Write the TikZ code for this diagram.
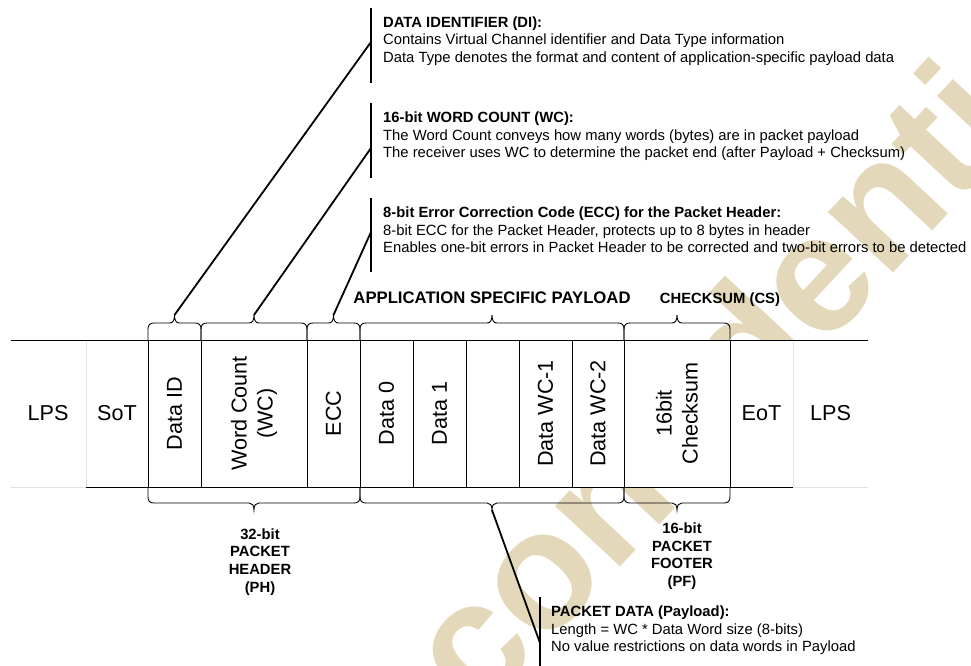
\documentclass[tikz,border=0pt]{standalone}
\usepackage{fontspec}
\setmainfont{Liberation Sans}
\definecolor{wm}{RGB}{228,216,186}
\definecolor{faintc}{RGB}{225,225,225}
\newcommand\bracetop[3]{%
  \draw[brc] (#1,340) -- (#1,329) .. controls (#1,325) and ({#1+2},323) .. ({#1+6},323)
    -- ({#2-5},323) .. controls ({#2-2},323) and (#2,321) .. (#2,315)
    .. controls (#2,321) and ({#2+2},323) .. ({#2+5},323)
    -- ({#3-6},323) .. controls ({#3-2},323) and (#3,325) .. (#3,329) -- (#3,340);}
\newcommand\bracebot[3]{%
  \draw[brc] (#1,487) -- (#1,497) .. controls (#1,501) and ({#1+2},503) .. ({#1+6},503)
    -- ({#2-5},503) .. controls ({#2-2},503) and (#2,505) .. (#2,510)
    .. controls (#2,505) and ({#2+2},503) .. ({#2+5},503)
    -- ({#3-6},503) .. controls ({#3-2},503) and (#3,501) .. (#3,497) -- (#3,487);}
\begin{document}
\begin{tikzpicture}[x=1pt,y=-1pt,
  txt/.style={inner sep=0pt, anchor=base west, font=\fontsize{14.8}{17.7}\selectfont},
  ttl/.style={inner sep=0pt, anchor=base west, font=\fontsize{14.8}{17.7}\selectfont\bfseries},
  lbl/.style={inner sep=0pt, anchor=base, font=\fontsize{14.8}{17.7}\selectfont\bfseries},
  cell/.style={inner sep=0pt, align=center, font=\fontsize{21.6}{26}\selectfont},
  ln/.style={line width=1pt, black},
  faint/.style={line width=1pt, faintc},
  brc/.style={line width=0.9pt, black},
  leader/.style={line width=1.8pt, black},
  bar/.style={line width=2pt, black}]
\useasboundingbox (0,0) rectangle (971,666);
\fill[white] (0,0) rectangle (971,666);
% watermark
\node[inner sep=0pt, rotate=47, text=wm, font=\fontsize{168}{168}\selectfont\bfseries] (wmark) at (756,333) {confidential};
% band
\fill[white] (11,340) rectangle (868,487);
\draw[faint] (11,487) -- (86,487);
\draw[faint] (793,487) -- (868,487);
\draw[faint] (86,340) -- (86,487);
\draw[faint] (793,340) -- (793,487);
\draw[ln] (11,340) -- (868,340);
\draw[ln] (86,487) -- (793,487);
\foreach \x in {148,201,307,360,413,466,519,572,624,730} \draw[ln] (\x,340) -- (\x,487);
% cell texts
\node[cell] (lpsa) at (48,413.5) {LPS};
\node[cell] (sot) at (117,413.5) {SoT};
\node[cell, rotate=90] (dataid) at (174.5,413.5) {Data ID};
\node[cell, rotate=90] (wcount) at (254,413.5) {Word Count\\(WC)};
\node[cell, rotate=90] (ecc) at (333.5,413.5) {ECC};
\node[cell, rotate=90] (dzero) at (386.5,413.5) {Data 0};
\node[cell, rotate=90] (done) at (439.5,413.5) {Data 1};
\node[cell, rotate=90] (dwca) at (545.5,413.5) {Data WC-1};
\node[cell, rotate=90] (dwcb) at (598,413.5) {Data WC-2};
\node[cell, rotate=90] (csum) at (677,413.5) {16bit\\Checksum};
\node[cell] (eot) at (761.5,413.5) {EoT};
\node[cell] (lpsb) at (830.5,413.5) {LPS};
% braces
\bracetop{148}{174.5}{201}
\bracetop{201}{254}{307}
\bracetop{307}{333.5}{360}
\bracetop{360}{492}{624}
\bracetop{624}{677}{730}
\bracebot{148}{254}{360}
\bracebot{360}{492}{624}
\bracebot{624}{677}{730}
% leader coordinates
\coordinate (tipDI) at (174.5,315);
\coordinate (endDI) at (371,42);
\coordinate (tipWC) at (254,315);
\coordinate (endWC) at (371,148);
\coordinate (tipECC) at (333.5,315);
\coordinate (endECC) at (371,232);
\coordinate (tipPD) at (492,510);
\coordinate (endPD) at (540,643);
\draw[leader] (tipDI) -- (endDI);
\draw[leader] (tipWC) -- (endWC);
\draw[leader] (tipECC) -- (endECC);
\draw[leader] (tipPD) -- (endPD);
% bars
\draw[bar] (371,8) -- (371,83);
\draw[bar] (371,103) -- (371,178);
\draw[bar] (371,198) -- (371,272);
\draw[bar] (540,597) -- (540,670);
% DI text
\node[ttl] (dit) at (383,27.3) {DATA IDENTIFIER (DI):};
\node[txt] (dia) at (383,45) {Contains Virtual Channel identifier and Data Type information};
\node[txt] (dib) at (383,62.7) {Data Type denotes the format and content of application-specific payload data};
% WC text
\node[ttl] (wct) at (383,122.3) {16-bit WORD COUNT (WC):};
\node[txt] (wca) at (383,140) {The Word Count conveys how many words (bytes) are in packet payload};
\node[txt] (wcb) at (383,157.7) {The receiver uses WC to determine the packet end (after Payload + Checksum)};
% ECC text
\node[ttl] (ecct) at (383,217.3) {8-bit Error Correction Code (ECC) for the Packet Header:};
\node[txt] (ecca) at (383,235) {8-bit ECC for the Packet Header, protects up to 8 bytes in header};
\node[txt] (eccb) at (383,252.7) {Enables one-bit errors in Packet Header to be corrected and two-bit errors to be detected};
% headings
\node[inner sep=0pt, anchor=base, font=\fontsize{16.7}{20}\selectfont\bfseries] (asp) at (492,303.3) {APPLICATION SPECIFIC PAYLOAD};
\node[lbl] (csl) at (720,303.3) {CHECKSUM (CS)};
% header label
\node[lbl] (pha) at (260,539) {32-bit};
\node[lbl] (phb) at (260,556.7) {PACKET};
\node[lbl] (phc) at (260,574.4) {HEADER};
\node[lbl] (phd) at (260,592.1) {(PH)};
% footer label
\node[lbl] (pfa) at (682,533.3) {16-bit};
\node[lbl] (pfb) at (682,551) {PACKET};
\node[lbl] (pfc) at (682,568.7) {FOOTER};
\node[lbl] (pfd) at (682,586.4) {(PF)};
% payload text
\node[ttl] (pdt) at (551,616.5) {PACKET DATA (Payload):};
\node[txt] (pda) at (551,634.2) {Length = WC * Data Word size (8-bits)};
\node[txt] (pdb) at (551,651.9) {No value restrictions on data words in Payload};
\end{tikzpicture}
\end{document}
